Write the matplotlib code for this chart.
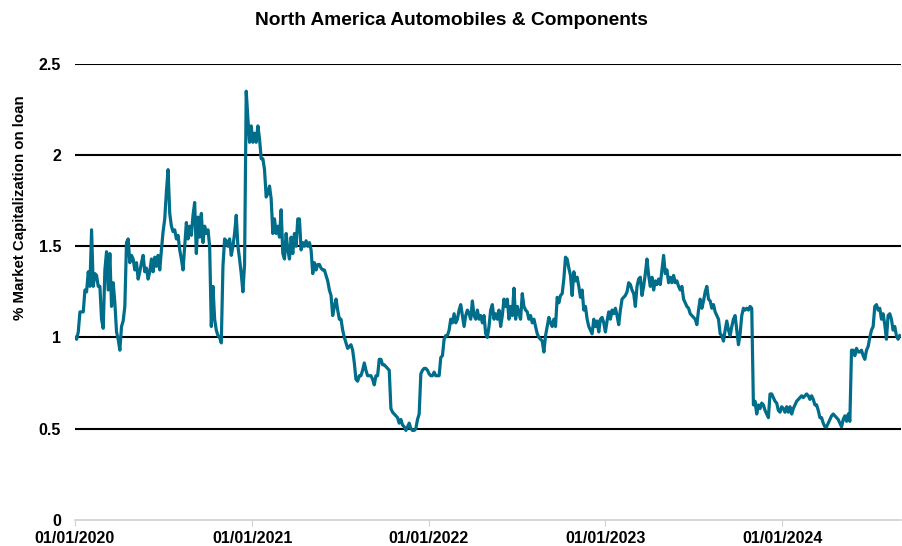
import numpy as np
import pandas as pd
import matplotlib.pyplot as plt
import matplotlib.dates as mdates

# % of market cap on loan at ~3.4 day steps
start_date = '2020-01-01'
end_date = '2024-08-31'
on_loan = [
    1.00, 0.99, 1.03, 1.14, 1.14, 1.14, 1.26, 1.25, 1.36, 1.28, 1.59, 1.28, 1.35, 1.34, 1.28, 1.28,
    1.10, 1.05, 1.37, 1.47, 1.26, 1.46, 1.17, 1.30, 1.19, 1.03, 0.99, 0.93, 1.06, 1.09, 1.17, 1.52,
    1.54, 1.41, 1.45, 1.43, 1.37, 1.41, 1.32, 1.36, 1.41, 1.45, 1.36, 1.38, 1.32, 1.36, 1.43, 1.36,
    1.44, 1.39, 1.45, 1.37, 1.48, 1.58, 1.65, 1.80, 1.92, 1.68, 1.61, 1.58, 1.59, 1.54, 1.56, 1.48,
    1.43, 1.37, 1.50, 1.63, 1.54, 1.61, 1.56, 1.67,
    # mid 2020 -> early 2021
    1.74, 1.46, 1.66, 1.55, 1.68, 1.52, 1.61, 1.57, 1.59, 1.50, 1.06, 1.28, 1.10, 1.04, 1.01, 1.00,
    0.97, 1.39, 1.54, 1.53, 1.50, 1.54, 1.45, 1.50, 1.57, 1.67, 1.50, 1.43, 1.35, 1.25, 1.40, 2.35,
    2.20, 2.07, 2.16, 2.07, 2.12, 2.07, 2.16, 2.09, 1.98, 1.98, 1.92, 1.77, 1.79, 1.83, 1.76, 1.57,
    1.65, 1.57, 1.61, 1.55, 1.70, 1.46, 1.43, 1.57, 1.48, 1.43, 1.55, 1.46, 1.57, 1.50, 1.65, 1.65,
    1.48, 1.52, 1.50, 1.53, 1.50, 1.52, 1.48, 1.35, 1.41, 1.37, 1.40,
    # 2021
    1.40, 1.38, 1.37, 1.37, 1.34, 1.31, 1.26, 1.23, 1.12, 1.17, 1.21, 1.15, 1.10, 1.10, 1.04, 1.00,
    0.97, 0.94, 0.95, 0.96, 0.93, 0.86, 0.77, 0.76, 0.79, 0.79, 0.82, 0.86, 0.82, 0.79, 0.79, 0.79,
    0.77, 0.74, 0.79, 0.79, 0.88, 0.88, 0.85, 0.85, 0.84, 0.83, 0.82, 0.61, 0.59, 0.58, 0.57, 0.56,
    0.53, 0.55, 0.52, 0.51, 0.49, 0.51, 0.53, 0.50, 0.49, 0.49, 0.50, 0.55, 0.58, 0.80, 0.82, 0.83,
    0.83, 0.82, 0.80, 0.79, 0.79, 0.81, 0.79, 0.79, 0.79, 0.89, 0.90,
    # 2022
    0.99, 1.01, 1.01, 1.04, 1.10, 1.08, 1.13, 1.08, 1.10, 1.15, 1.18, 1.12, 1.06, 1.12, 1.15, 1.13,
    1.10, 1.20, 1.12, 1.10, 1.15, 1.10, 1.12, 1.08, 1.12, 1.02, 1.00, 1.06, 1.15, 1.18, 1.10, 1.13,
    1.10, 1.15, 1.06, 1.12, 1.21, 1.17, 1.21, 1.10, 1.17, 1.12, 1.27, 1.10, 1.17, 1.13, 1.10, 1.24,
    1.17, 1.15, 1.14, 1.10, 1.12, 1.08, 1.10, 1.06, 1.02, 1.00, 0.99, 0.98, 0.92, 1.01, 1.06, 1.11,
    1.08, 1.06, 1.10, 1.06, 1.22, 1.19, 1.23, 1.24, 1.32, 1.44, 1.43,
    # late 2022 -> 2023
    1.38, 1.34, 1.23, 1.36, 1.31, 1.33, 1.28, 1.22, 1.26, 1.15, 1.17, 1.10, 1.06, 1.04, 1.02, 1.10,
    1.06, 1.09, 1.03, 1.10, 1.11, 1.08, 1.03, 1.09, 1.14, 1.10, 1.15, 1.13, 1.16, 1.12, 1.07, 1.15,
    1.21, 1.22, 1.23, 1.25, 1.30, 1.29, 1.26, 1.24, 1.17, 1.28, 1.32, 1.33, 1.23, 1.28, 1.35, 1.43,
    1.34, 1.28, 1.33, 1.26, 1.31, 1.29, 1.32, 1.29, 1.37, 1.45, 1.35, 1.37, 1.30, 1.33, 1.30, 1.34,
    1.30, 1.31, 1.28, 1.26, 1.28, 1.21, 1.19, 1.17, 1.16, 1.13, 1.12,
    # 2023 -> early 2024
    1.11, 1.10, 1.07, 1.15, 1.21, 1.16, 1.20, 1.25, 1.28, 1.21, 1.20, 1.16, 1.18, 1.14, 1.12, 1.10,
    1.02, 1.01, 0.98, 1.04, 1.09, 1.04, 1.01, 1.06, 1.10, 1.12, 1.04, 0.96, 1.02, 1.12, 1.16, 1.15,
    1.16, 1.15, 1.17, 1.16, 0.63, 0.65, 0.58, 0.63, 0.61, 0.64, 0.63, 0.60, 0.58, 0.56, 0.69, 0.69,
    0.67, 0.65, 0.64, 0.60, 0.59, 0.62, 0.61, 0.59, 0.62, 0.59, 0.62, 0.58, 0.61, 0.63, 0.65, 0.66,
    0.67, 0.68, 0.67, 0.68, 0.69, 0.68, 0.66, 0.68, 0.66, 0.63, 0.63,
    # 2024
    0.60, 0.56, 0.56, 0.53, 0.51, 0.51, 0.53, 0.55, 0.57, 0.58, 0.57, 0.56, 0.55, 0.53, 0.51, 0.55,
    0.57, 0.54, 0.58, 0.54, 0.93, 0.93, 0.90, 0.94, 0.92, 0.92, 0.93, 0.90, 0.88, 0.93, 0.95, 1.00,
    1.04, 1.06, 1.17, 1.18, 1.15, 1.16, 1.10, 1.13, 1.07, 0.99, 1.12, 1.13, 1.10, 1.04, 1.06, 1.01,
    0.99, 1.01,
]
dates = pd.date_range(start_date, end_date, periods=len(on_loan))
year_ticks = pd.to_datetime(['2020-01-01', '2021-01-01', '2022-01-01', '2023-01-01', '2024-01-01'])

plt.rcParams['font.family'] = ['Liberation Sans', 'DejaVu Sans']
plt.rcParams['font.weight'] = 'bold'

fig = plt.figure(figsize=(9.03, 5.46), dpi=100)
ax = fig.add_axes([0.083, 0.048, 0.915, 0.835])

for y in [0.5, 1, 1.5, 2, 2.5]:
    ax.axhline(y, color='black', lw=1.5, zorder=1)

ax.plot(dates, on_loan, color='#006e8a', lw=2.3, zorder=3)

ax.set_xlim(pd.Timestamp('2020-01-01'), pd.Timestamp('2024-09-03'))
ax.set_ylim(0, 2.5)
ax.set_yticks([0, 0.5, 1, 1.5, 2, 2.5])
ax.set_yticklabels(['0', '0.5', '1', '1.5', '2', '2.5'], fontsize=11.5, fontweight='bold')
ax.set_xticks(year_ticks)
ax.xaxis.set_major_formatter(mdates.DateFormatter('%d/%m/%Y'))
for lbl in ax.get_xticklabels():
    lbl.set_fontsize(11.5)
    lbl.set_fontweight('bold')

for side in ['top', 'right', 'left']:
    ax.spines[side].set_visible(False)
ax.spines['bottom'].set_color('#d0d0d0')
ax.spines['bottom'].set_linewidth(1.2)
ax.tick_params(axis='y', length=0, pad=10)
ax.tick_params(axis='x', length=4, color='#d0d0d0', pad=4)

ax.set_ylabel('% Market Capitalization on loan', fontsize=10.8, fontweight='bold')
ax.yaxis.set_label_coords(-0.058, 0.684)
fig.suptitle('North America Automobiles & Components', fontsize=13.8, fontweight='bold', y=0.978)

fig.savefig('out.png', dpi=100)
